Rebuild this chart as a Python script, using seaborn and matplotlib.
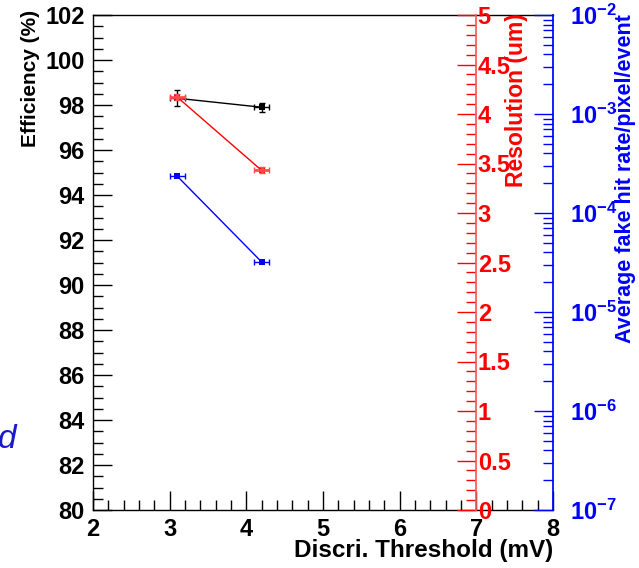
import numpy as np
import pandas as pd
import matplotlib
matplotlib.use("Agg")
import matplotlib.pyplot as plt
import seaborn as sns
from matplotlib.ticker import MultipleLocator, LogLocator, FixedLocator, FixedFormatter, NullFormatter

# data
threshold = [3.1, 4.2]
threshold_err = [0.1, 0.1]
efficiency = [98.3, 97.9]
efficiency_err = [0.35, 0.2]
resolution = [4.17, 3.43]
resolution_err = [0.03, 0.03]
fake_rate = [2.35e-4, 3.2e-5]

sns.set_theme(style="white")
plt.rcParams['font.family'] = ['Liberation Sans', 'DejaVu Sans']
plt.rcParams['font.weight'] = 'bold'
plt.rcParams['mathtext.fontset'] = 'custom'
plt.rcParams['mathtext.rm'] = 'Liberation Sans:bold'
plt.rcParams['mathtext.bf'] = 'Liberation Sans:bold'

df = pd.DataFrame({'thr': threshold, 'eff': efficiency, 'res': resolution, 'fake': fake_rate})

fig = plt.figure(figsize=(6.39, 5.68), dpi=100)
ax = fig.add_axes([93 / 639, 1 - 510 / 568, 460 / 639, 495 / 568])
ax.set_facecolor('white')

tick_fs = 17

# efficiency (left axis)
sns.lineplot(data=df, x='thr', y='eff', ax=ax, color='black', marker='s', markersize=4,
             markeredgewidth=0, linewidth=1)
ax.errorbar(threshold, efficiency, xerr=threshold_err, yerr=efficiency_err, fmt='none',
            ecolor='black', elinewidth=1, capsize=2)
ax.set_xlim(2, 8)
ax.set_ylim(80, 102)
ax.xaxis.set_major_locator(MultipleLocator(1))
ax.xaxis.set_minor_locator(MultipleLocator(0.2))
ax.yaxis.set_major_locator(MultipleLocator(2))
ax.yaxis.set_minor_locator(MultipleLocator(0.5))
ax.tick_params(axis='both', which='both', direction='in', top=False, right=False,
               left=True, bottom=True, colors='black', labelsize=tick_fs)
ax.tick_params(axis='y', which='major', length=14, width=1, pad=6)
ax.tick_params(axis='y', which='minor', length=7, width=1)
ax.tick_params(axis='x', which='major', length=14, width=1, pad=6)
ax.tick_params(axis='x', which='minor', length=7, width=1)
ax.set_xlabel('')
ax.set_ylabel('')
for s in ['left', 'bottom', 'top']:
    ax.spines[s].set_color('black')
    ax.spines[s].set_linewidth(1)
ax.spines['right'].set_visible(False)

# resolution (red axis at x = 7)
ax2 = ax.twinx()
sns.lineplot(data=df, x='thr', y='res', ax=ax2, color='red', marker='s', markersize=4,
             markeredgewidth=0, linewidth=1)
ax2.errorbar(threshold, resolution, xerr=threshold_err, yerr=resolution_err, fmt='none',
             ecolor=(1, 0.3, 0.3), elinewidth=2, capsize=2)
ax2.set_ylim(0, 5)
ax2.set_xlim(2, 8)
ax2.yaxis.set_major_locator(MultipleLocator(0.5))
ax2.yaxis.set_minor_locator(MultipleLocator(0.1))
ax2.yaxis.set_major_formatter(plt.FuncFormatter(lambda v, p: f'{v:g}'))
for s in ['left', 'top', 'bottom']:
    ax2.spines[s].set_visible(False)
ax2.spines['right'].set_position(('data', 7))
ax2.spines['right'].set_color((1, 0.35, 0.35))
ax2.tick_params(axis='y', which='both', direction='in', right=True, left=False,
                colors='red', labelsize=tick_fs, pad=1)
ax2.tick_params(axis='y', which='major', length=14, width=1)
ax2.tick_params(axis='y', which='minor', length=7, width=1)
ax2.set_ylabel('')
ax2.set_facecolor('none')

# fake hit rate (blue log axis at the right edge)
ax3 = ax.twinx()
sns.lineplot(data=df, x='thr', y='fake', ax=ax3, color='blue', marker='s', markersize=4,
             markeredgewidth=0, linewidth=1)
ax3.errorbar(threshold, fake_rate, xerr=threshold_err, fmt='none',
             ecolor='blue', elinewidth=1, capsize=2)
ax3.set_yscale('log')
ax3.set_ylim(1e-7, 1e-2)
ax3.set_xlim(2, 8)
decades = [1e-7, 1e-6, 1e-5, 1e-4, 1e-3, 1e-2]
ax3.yaxis.set_major_locator(FixedLocator(decades))
ax3.yaxis.set_major_formatter(FixedFormatter([r'$\mathbf{10^{%d}}$' % int(np.log10(d)) for d in decades]))
ax3.yaxis.set_minor_locator(LogLocator(base=10, subs=np.arange(2, 10), numticks=20))
ax3.yaxis.set_minor_formatter(NullFormatter())
for s in ['left', 'top', 'bottom']:
    ax3.spines[s].set_visible(False)
ax3.spines['right'].set_color('blue')
ax3.tick_params(axis='y', which='both', direction='in', right=True, left=False,
                colors='blue', labelsize=tick_fs, pad=12)
ax3.tick_params(axis='y', which='major', length=14, width=1)
ax3.tick_params(axis='y', which='minor', length=7, width=1)
ax3.set_ylabel('')
ax3.set_facecolor('none')

# axis titles
fig.text(30 / 639, 1 - 10 / 568, 'Efficiency (%)', rotation=90, ha='center', va='top',
         fontsize=15, fontweight='bold', color='black')
fig.text(517 / 639, 1 - 13 / 568, 'Resolution (um)', rotation=90, ha='center', va='top',
         fontsize=16.5, fontweight='bold', color='red')
fig.text(626 / 639, 1 - 14 / 568, 'Average fake hit rate/pixel/event', rotation=90,
         ha='center', va='top', fontsize=15.5, fontweight='bold', color='blue')
fig.text(553 / 639, 1 - 551 / 568, 'Discri. Threshold (mV)', ha='right', va='center',
         fontsize=17.5, fontweight='bold', color='black')
fig.text(-2 / 639, 1 - 440 / 568, 'd', ha='left', va='center', fontsize=24,
         fontstyle='italic', fontweight='normal', color=(0.1, 0.1, 0.8))

fig.savefig('out.png', dpi=100, facecolor='white')
